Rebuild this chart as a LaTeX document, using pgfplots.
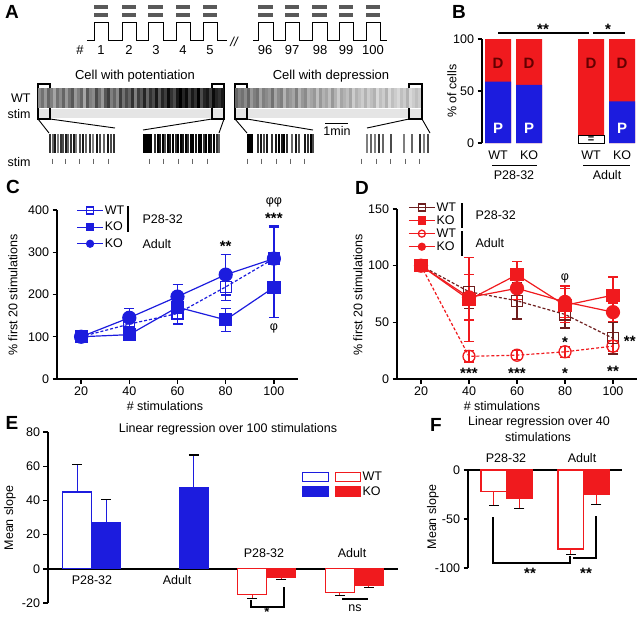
\documentclass[border=0pt]{standalone}
\usepackage{fontspec}
\setmainfont{Liberation Sans}
\usepackage{pgfplots}
\pgfplotsset{compat=1.18}
\definecolor{myblue}{RGB}{28,28,222}
\definecolor{myred}{RGB}{240,26,30}
\definecolor{wtd}{RGB}{110,30,30}
\definecolor{dlab}{RGB}{100,0,0}
\newcommand{\fs}{\fontsize{12.5}{14}\selectfont}
\newcommand{\fa}{\fontsize{13}{15}\selectfont}
\newcommand{\fl}{\fontsize{19}{21}\selectfont\bfseries}
\newcommand{\fb}{\fontsize{15}{17}\selectfont\bfseries}
\newcommand{\fst}{\fontsize{15}{17}\selectfont\bfseries}
\pgfplotsset{
  myax/.style={scale only axis, clip=false,
    axis line style={line width=1.7pt,-},
    tick style={line width=1.4pt,black},
    tick align=outside, major tick length=4.5pt,
    tick label style={font=\fs},
    /pgf/number format/assume math mode=true},
  eb/.style={error bars/.cd, y dir=#1, y explicit,
    error bar style={solid,line width=1.2pt},
    error mark options={solid,rotate=90,line width=1.2pt,mark size=5pt}},
  mylegend/.style={legend cell align=left,
    legend style={draw=none, fill=none, inner sep=0pt, font=\fs, row sep=#1, nodes={inner sep=1.2pt}},
    legend image code/.code={\draw[##1,solid,mark size=3.5pt,mark repeat=2,mark phase=2] plot coordinates {(0pt,0pt) (13pt,0pt) (26pt,0pt)};}},
  rast/.style={scatter, only marks, mark=|, point meta=explicit,
    scatter/use mapped color={draw=mapped color}, forget plot}
}
\begin{document}
\begin{tikzpicture}[x=1pt,y=-1pt]
\useasboundingbox (0,0) rectangle (640,619);

% ---------------- Panel A ----------------
\begin{axis}[at={(0pt,0pt)}, anchor=north west, scale only axis, width=640pt, height=170pt,
  xmin=0, xmax=640, ymin=0, ymax=170, y dir=reverse, hide axis, clip=false,
  colormap={bw}{gray(0cm)=(1); gray(1cm)=(0)}, point meta min=0, point meta max=1]
\addplot[line width=3.6pt, black!65, unbounded coords=jump, forget plot] coordinates {
 (94,7) (108,7) (108,nan) (122,7) (136,7) (136,nan) (148,7) (163,7) (163,nan) (176,7) (190,7) (190,nan) (203,7) (217,7) (217,nan)
 (258,7) (273,7) (273,nan) (285,7) (299,7) (299,nan) (312,7) (327,7) (327,nan) (339,7) (353,7) (353,nan) (366,7) (380,7)};
\addplot[line width=3.6pt, black!65, unbounded coords=jump, forget plot] coordinates {
 (94,15) (108,15) (108,nan) (122,15) (136,15) (136,nan) (148,15) (163,15) (163,nan) (176,15) (190,15) (190,nan) (203,15) (217,15) (217,nan)
 (258,15) (273,15) (273,nan) (285,15) (299,15) (299,nan) (312,15) (327,15) (327,nan) (339,15) (353,15) (353,nan) (366,15) (380,15)};
\addplot[black, line width=0.8pt, forget plot] coordinates {(87,40)(94,40)(94,22)(108,22)(108,40)(122,40)(122,22)(136,22)(136,40)(148,40)(148,22)(163,22)(163,40)(176,40)(176,22)(190,22)(190,40)(203,40)(203,22)(217,22)(217,40)(227,40)};
\addplot[black, line width=0.8pt, forget plot] coordinates {(253,40)(258,40)(258,22)(273,22)(273,40)(285,40)(285,22)(299,22)(299,40)(312,40)(312,22)(327,22)(327,40)(339,40)(339,22)(353,22)(353,40)(366,40)(366,22)(380,22)(380,40)(387,40)};
\addplot[fill=black!10, draw=none, forget plot] coordinates {(38,109)(224,109)(224,118)(38,118)} -- cycle;
\addplot[fill=black!10, draw=none, forget plot] coordinates {(235,109)(422,109)(422,118)(235,118)} -- cycle;
\addplot[rast, mark size=10pt, mark options={line width=3.3pt}] coordinates {
(39.5,98)[0.45] (42.5,98)[0.55] (45.5,98)[0.40] (48.5,98)[0.60] (51.5,98)[0.50] (54.5,98)[0.35] (57.5,98)[0.55] (60.5,98)[0.45] (63.5,98)[0.60] (66.5,98)[0.40]
(69.5,98)[0.55] (72.5,98)[0.65] (75.5,98)[0.40] (78.5,98)[0.50] (81.5,98)[0.60] (84.5,98)[0.35] (87.5,98)[0.65] (90.5,98)[0.50] (93.5,98)[0.45] (96.5,98)[0.70]
(99.5,98)[0.55] (102.5,98)[0.40] (105.5,98)[0.65] (108.5,98)[0.75] (111.5,98)[0.50] (114.5,98)[0.60] (117.5,98)[0.45] (120.5,98)[0.75] (123.5,98)[0.55] (126.5,98)[0.70]
(129.5,98)[0.60] (132.5,98)[0.80] (135.5,98)[0.50] (138.5,98)[0.75] (141.5,98)[0.65] (144.5,98)[0.85] (147.5,98)[0.60] (150.5,98)[0.80] (153.5,98)[0.70] (156.5,98)[0.90]
(159.5,98)[0.65] (162.5,98)[0.85] (165.5,98)[0.75] (168.5,98)[0.95] (171.5,98)[0.80] (174.5,98)[0.70] (177.5,98)[0.90] (180.5,98)[1.00] (183.5,98)[0.85] (186.5,98)[0.95]
(189.5,98)[0.75] (192.5,98)[0.90] (195.5,98)[0.80] (198.5,98)[1.00] (201.5,98)[0.70] (204.5,98)[0.85] (207.5,98)[0.90] (210.5,98)[0.75] (213.5,98)[0.95] (216.5,98)[0.85]
(219.5,98)[0.80] (222.5,98)[0.90]};
\addplot[rast, mark size=10pt, mark options={line width=3.3pt}] coordinates {
(236.5,98)[0.60] (239.5,98)[0.50] (242.5,98)[0.55] (245.5,98)[0.45] (248.5,98)[0.60] (251.5,98)[0.40] (254.5,98)[0.50] (257.5,98)[0.55] (260.5,98)[0.35] (263.5,98)[0.50]
(266.5,98)[0.45] (269.5,98)[0.40] (272.5,98)[0.55] (275.5,98)[0.35] (278.5,98)[0.45] (281.5,98)[0.50] (284.5,98)[0.30] (287.5,98)[0.45] (290.5,98)[0.40] (293.5,98)[0.35]
(296.5,98)[0.50] (299.5,98)[0.30] (302.5,98)[0.40] (305.5,98)[0.45] (308.5,98)[0.30] (311.5,98)[0.35] (314.5,98)[0.40] (317.5,98)[0.25] (320.5,98)[0.40] (323.5,98)[0.30]
(326.5,98)[0.35] (329.5,98)[0.25] (332.5,98)[0.40] (335.5,98)[0.30] (338.5,98)[0.20] (341.5,98)[0.35] (344.5,98)[0.30] (347.5,98)[0.25] (350.5,98)[0.35] (353.5,98)[0.20]
(356.5,98)[0.30] (359.5,98)[0.25] (362.5,98)[0.20] (365.5,98)[0.30] (368.5,98)[0.20] (371.5,98)[0.25] (374.5,98)[0.30] (377.5,98)[0.15] (380.5,98)[0.25] (383.5,98)[0.20]
(386.5,98)[0.30] (389.5,98)[0.15] (392.5,98)[0.25] (395.5,98)[0.20] (398.5,98)[0.15] (401.5,98)[0.25] (404.5,98)[0.20] (407.5,98)[0.30] (410.5,98)[0.15] (413.5,98)[0.20]
(416.5,98)[0.25] (419.5,98)[0.20]};
\addplot[rast, mark size=9.5pt, mark options={line width=1.4pt}] coordinates {
(50,143.5)[0.8] (53,143.5)[0.6] (55,143.5)[0.9] (58,143.5)[0.5] (61,143.5)[0.8] (63,143.5)[0.7] (66,143.5)[0.9] (68,143.5)[0.6] (71,143.5)[0.8] (74,143.5)[0.9] (76,143.5)[0.5]
(80,143.5)[0.7] (83,143.5)[0.9] (86,143.5)[0.6] (90,143.5)[0.8] (93,143.5)[0.5] (97,143.5)[0.9] (100,143.5)[0.7] (104,143.5)[0.6] (108,143.5)[0.9] (111,143.5)[0.7] (114,143.5)[0.8]};
\addplot[rast, mark size=9.5pt, mark options={line width=1.6pt}] coordinates {
(144,143.5)[1] (145.5,143.5)[1] (147,143.5)[1] (148.5,143.5)[1] (150,143.5)[1] (151.5,143.5)[1] (155,143.5)[0.8] (158,143.5)[1] (160,143.5)[0.9] (163,143.5)[1] (165,143.5)[0.7]
(168,143.5)[1] (170,143.5)[0.9] (173,143.5)[1] (176,143.5)[0.8] (178,143.5)[1] (181,143.5)[1] (183,143.5)[0.9] (186,143.5)[1] (188,143.5)[0.8] (191,143.5)[1] (193,143.5)[1]
(196,143.5)[0.9] (199,143.5)[1] (201,143.5)[1] (204,143.5)[0.8] (206,143.5)[1] (209,143.5)[1] (211,143.5)[0.9] (214,143.5)[1] (217,143.5)[0.8] (219,143.5)[0.6]};
\addplot[rast, mark size=9.5pt, mark options={line width=1.6pt}] coordinates {
(248,143.5)[1] (249.5,143.5)[1] (251,143.5)[1] (252.5,143.5)[1] (258,143.5)[0.8] (261,143.5)[0.9] (264,143.5)[0.7] (267,143.5)[0.9] (272,143.5)[0.8] (276,143.5)[0.9]
(279,143.5)[1] (282,143.5)[0.9] (284,143.5)[1] (287,143.5)[0.8] (292,143.5)[0.6] (296,143.5)[0.9] (299,143.5)[0.7] (305,143.5)[0.9] (308,143.5)[0.8] (311,143.5)[1] (313,143.5)[0.7]};
\addplot[rast, mark size=9.5pt, mark options={line width=1.4pt}] coordinates {
(367,143.5)[0.5] (371,143.5)[0.6] (375,143.5)[0.5] (379,143.5)[0.8] (383,143.5)[0.6] (391,143.5)[0.7] (404,143.5)[0.5] (412,143.5)[0.6] (420,143.5)[0.8] (424,143.5)[0.5] (428,143.5)[0.7]};
\addplot[only marks, mark=|, mark size=2.5pt, black!60, mark options={line width=0.7pt}, forget plot] coordinates {
(52,161)(65,161)(79,161)(93,161)(108,161)(149,161)(163,161)(178,161)(192,161)(207,161)
(247,161)(261,161)(276,161)(290,161)(304,161)(361,161)(376,161)(390,161)(405,161)(419,161)};
\draw[line width=1.1pt] (axis cs:38,84) rectangle (axis cs:50,119);
\draw[line width=1.1pt] (axis cs:212,84) rectangle (axis cs:224,119);
\draw[line width=1.1pt] (axis cs:235,84) rectangle (axis cs:247,119);
\draw[line width=1.1pt] (axis cs:409,84) rectangle (axis cs:422,119);
\draw[line width=0.9pt] (axis cs:38,119) -- (axis cs:49,133);
\draw[line width=0.9pt] (axis cs:50,119) -- (axis cs:115,128);
\draw[line width=0.9pt] (axis cs:212,119) -- (axis cs:143,130);
\draw[line width=0.9pt] (axis cs:224,119) -- (axis cs:219,133);
\draw[line width=0.9pt] (axis cs:235,119) -- (axis cs:247,133);
\draw[line width=0.9pt] (axis cs:247,119) -- (axis cs:313,130);
\draw[line width=0.9pt] (axis cs:409,119) -- (axis cs:367,128);
\draw[line width=0.9pt] (axis cs:422,119) -- (axis cs:430,133);
\draw[line width=0.9pt] (axis cs:325,123) -- (axis cs:348,123);
\end{axis}
\node[font=\fl] at (12,12) {A};
\node[font=\fa] at (80,50) {\#};
\foreach \x/\t in {101/1,129/2,156/3,183/4,210/5,265/96,292/97,320/98,346/99,373/100}
  \node[font=\fa] at (\x,50) {\t};
\node[font=\fa\itshape] at (234,42) {//};
\node[font=\fa] at (135,76) {Cell with potentiation};
\node[font=\fa] at (331,76) {Cell with depression};
\node[font=\fs, anchor=east] at (34,98) {WT};
\node[font=\fs, anchor=east] at (34,114) {stim};
\node[font=\fs, anchor=east] at (34,162) {stim};
\node[font=\fs] at (337,131) {1min};

% ---------------- Panel B ----------------
\begin{axis}[myax, at={(482pt,-143pt)}, anchor=south west, width=154pt, height=104pt,
  axis x line*=bottom, axis y line*=left, x axis line style={draw=none},
  xmin=-0.52, xmax=4.45, ymin=0, ymax=100, ytick={0,50,100},
  xtick={0,1,3,4}, xticklabels={WT,KO,WT,KO}, x tick style={draw=none}]
\addplot[ybar, bar width=26pt, bar shift=0pt, fill=myred, draw=none] coordinates {(0,100)(1,100)(3,100)(4,100)};
\addplot[ybar, bar width=26pt, bar shift=0pt, fill=myblue, draw=none] coordinates {(0,59)(1,56)(4,40)};
\addplot[ybar, bar width=26pt, bar shift=0pt, fill=white, draw=black, line width=0.8pt] coordinates {(3,7)};
\node[font=\fb, text=dlab] at (axis cs:0,77) {D};
\node[font=\fb, text=dlab] at (axis cs:1,77) {D};
\node[font=\fb, text=dlab] at (axis cs:3,77) {D};
\node[font=\fb, text=dlab] at (axis cs:4,77) {D};
\node[font=\fb, text=white] at (axis cs:0,14) {P};
\node[font=\fb, text=white] at (axis cs:1,14) {P};
\node[font=\fb, text=white] at (axis cs:4,14) {P};
\node[font=\fontsize{11}{12}\selectfont\bfseries, inner sep=0pt] at (axis cs:3,3.5) {=};
\end{axis}
\node[font=\fl] at (459,12) {B};
\node[font=\fs, rotate=90] at (452,91) {\% of cells};
\draw[line width=1.2pt] (498,33) -- (589,33);
\draw[line width=1.2pt] (593,33) -- (625,33);
\node[font=\fst] at (543,29) {**};
\node[font=\fst] at (608,29) {*};
\draw[line width=1pt] (492,165) -- (537,165);
\draw[line width=1pt] (583,165) -- (630,165);
\node[font=\fs] at (514,175) {P28-32};
\node[font=\fs] at (607,175) {Adult};

% ---------------- Panel C ----------------
\begin{axis}[myax, at={(57pt,-379pt)}, anchor=south west, width=241pt, height=169pt,
  axis x line*=bottom, axis y line*=left, xmin=10, xmax=110, ymin=0, ymax=400,
  xtick={20,40,60,80,100}, ytick={0,100,200,300,400},
  mylegend=4pt, legend style={at={(axis cs:18,414)}, anchor=north west}]
\addplot[myblue, densely dashed, line width=1.2pt, mark=square, mark size=5.5pt, mark options={solid,fill=white,line width=1.3pt}, eb=both]
 coordinates {(20,100) +- (0,0) (40,130) +- (0,14) (60,155) +- (0,25) (80,218) +- (0,32) (100,285) +- (0,73)};
\addlegendentry{WT}
\addplot[myblue, line width=1.2pt, mark=square*, mark size=6pt, mark options={solid}, eb=both]
 coordinates {(20,100) +- (0,0) (40,105) +- (0,14) (60,170) +- (0,30) (80,140) +- (0,27) (100,217) +- (0,72)};
\addlegendentry{KO}
\addplot[myblue, line width=1.2pt, mark=*, mark size=6.5pt, mark options={solid}, eb=both]
 coordinates {(20,100) +- (0,0) (40,145) +- (0,22) (60,195) +- (0,28) (80,247) +- (0,48) (100,285) +- (0,77)};
\addlegendentry{KO}
\node[font=\fst] at (axis cs:80,314) {**};
\node[font=\fst] at (axis cs:100,380) {***};
\node[font=\fs] at (axis cs:100,419) {φφ};
\node[font=\fs] at (axis cs:100,120) {φ};
\end{axis}
\node[font=\fl] at (13,187) {C};
\draw[line width=1.1pt] (128,206) -- (128,232);
\node[font=\fs, anchor=west] at (139,219) {P28-32};
\node[font=\fs, anchor=west] at (139,244) {Adult};
\node[font=\fs, rotate=90] at (13,295) {\% first 20 stimulations};
\node[font=\fs] at (165,406) {\# stimulations};

% ---------------- Panel D ----------------
\begin{axis}[myax, at={(397pt,-379pt)}, anchor=south west, width=240pt, height=170pt,
  axis x line*=bottom, axis y line*=left, xmin=10, xmax=110, ymin=0, ymax=150,
  xtick={20,40,60,80,100}, ytick={0,50,100,150},
  mylegend=0.5pt, legend style={at={(axis cs:14.6,157)}, anchor=north west}]
\addplot[wtd, densely dashed, line width=1.2pt, mark=square, mark size=5.5pt, mark options={solid,fill=white,line width=1.3pt}, eb=both]
 coordinates {(20,100) +- (0,0) (40,77) +- (0,15) (60,69) +- (0,16) (80,57) +- (0,12) (100,36) +- (0,14)};
\addlegendentry{WT}
\addplot[myred, line width=1.2pt, mark=square*, mark size=6pt, mark options={solid}, eb=both]
 coordinates {(20,100) +- (0,0) (40,70) +- (0,37) (60,92) +- (0,12) (80,65) +- (0,15) (100,74) +- (0,16)};
\addlegendentry{KO}
\addplot[myred, densely dashed, line width=1.2pt, mark=o, mark size=6pt, mark options={solid,fill=white,line width=1.3pt}, eb=both]
 coordinates {(20,100) +- (0,0) (40,20) +- (0,5) (60,21) +- (0,4) (80,24) +- (0,5) (100,29) +- (0,5)};
\addlegendentry{WT}
\addplot[myred, line width=1.2pt, mark=*, mark size=6.5pt, mark options={solid}, eb=both]
 coordinates {(20,100) +- (0,0) (40,72) +- (0,20) (60,80) +- (0,10) (80,68) +- (0,14) (100,59) +- (0,8)};
\addlegendentry{KO}
\node[font=\fst] at (axis cs:40,5) {***};
\node[font=\fst] at (axis cs:60,5) {***};
\node[font=\fst] at (axis cs:80,5) {*};
\node[font=\fst] at (axis cs:80,32) {*};
\node[font=\fst] at (axis cs:100,7) {**};
\node[font=\fst] at (axis cs:107,33) {**};
\node[font=\fs] at (axis cs:80,89) {φ};
\end{axis}
\node[font=\fl] at (362,188) {D};
\draw[line width=1.1pt] (462,203) -- (462,228);
\draw[line width=1.1pt] (462,231) -- (462,256);
\node[font=\fs, anchor=west] at (472,215) {P28-32};
\node[font=\fs, anchor=west] at (472,243) {Adult};
\node[font=\fs, rotate=90] at (358,295) {\% first 20 stimulations};
\node[font=\fs] at (502,406) {\# stimulations};

% ---------------- Panel E ----------------
\begin{axis}[myax, at={(48pt,-603pt)}, anchor=south west, width=350pt, height=171pt,
  axis x line*=middle, axis y line*=left, xtick=\empty,
  xmin=0, xmax=12, ymin=-20, ymax=80, ytick={-20,0,20,40,60,80},
  legend cell align=left,
  legend style={at={(axis cs:8.7,57.5)}, anchor=north west, draw=none, fill=none, inner sep=0pt, font=\fs, row sep=1pt, nodes={inner sep=1.5pt}}]
\addplot[ybar, bar width=29pt, bar shift=0pt, fill=white, draw=myblue, line width=1.3pt, forget plot, eb=plus] coordinates {(1,45) +- (0,16)};
\addplot[ybar, bar width=29pt, bar shift=0pt, fill=myblue, draw=myblue, line width=1.3pt, forget plot, eb=plus] coordinates {(2,27) +- (0,13.5) (5,47.5) +- (0,19)};
\addplot[ybar, bar width=29pt, bar shift=0pt, fill=white, draw=myred, line width=1.3pt, forget plot, eb=minus] coordinates {(7,-15) +- (0,2.5) (10,-14) +- (0,1.5)};
\addplot[ybar, bar width=29pt, bar shift=0pt, fill=myred, draw=myred, line width=1.3pt, forget plot, eb=minus] coordinates {(8,-5) +- (0,1.2) (11,-9.5) +- (0,1.5)};
\addlegendimage{legend image code/.code={\draw[myblue,line width=1.2pt,fill=white] (0pt,-4.5pt) rectangle (26pt,4.5pt); \draw[myred,line width=1.2pt,fill=white] (33pt,-4.5pt) rectangle (58pt,4.5pt);}}
\addlegendentry{WT}
\addlegendimage{legend image code/.code={\fill[myblue] (0pt,-5pt) rectangle (26pt,5pt); \fill[myred] (33pt,-5pt) rectangle (58pt,5pt);}}
\addlegendentry{KO}
\end{axis}
\node[font=\fl] at (12,423) {E};
\node[font=\fs] at (228,429) {Linear regression over 100 stimulations};
\node[font=\fs, rotate=90] at (10,518) {Mean slope};
\node[font=\fs] at (92,580) {P28-32};
\node[font=\fs] at (177,580) {Adult};
\node[font=\fs] at (264,553) {P28-32};
\node[font=\fs] at (352,553) {Adult};
\draw[line width=1.1pt] (251,600) -- (251,607) -- (284,607) -- (284,587);
\node[font=\fontsize{13}{14}\selectfont\bfseries, inner sep=0pt] at (267,612.5) {*};
\draw[line width=1.1pt] (342,599) -- (368,599);
\node[font=\fs] at (355,608) {ns};

% ---------------- Panel F ----------------
\begin{axis}[myax, at={(468pt,-568pt)}, anchor=south west, width=154pt, height=98pt,
  axis x line*=top, axis y line*=left, xtick=\empty,
  xmin=0, xmax=6, ymin=-100, ymax=0, ytick={-100,-50,0}]
\addplot[ybar, bar width=25.5pt, bar shift=0pt, fill=white, draw=myred, line width=1.3pt, eb=minus] coordinates {(1,-22) +- (0,14) (4,-80.5) +- (0,5.5)};
\addplot[ybar, bar width=25.5pt, bar shift=0pt, fill=myred, draw=myred, line width=1.3pt, eb=minus] coordinates {(2,-29) +- (0,10) (5,-24.5) +- (0,11)};
\end{axis}
\node[font=\fl] at (436,425) {F};
\node[font=\fs] at (539,422) {Linear regression over 40};
\node[font=\fs] at (538,437) {stimulations};
\node[font=\fs] at (506,458) {P28-32};
\node[font=\fs] at (582,458) {Adult};
\node[font=\fs, rotate=90] at (433,517) {Mean slope};
\draw[line width=1.1pt] (493,517) -- (493,563) -- (570,563) -- (570,556);
\node[font=\fst] at (530,573) {**};
\draw[line width=1.1pt] (573,558) -- (596,558) -- (596,516);
\node[font=\fst] at (586,573) {**};
\end{tikzpicture}
\end{document}
